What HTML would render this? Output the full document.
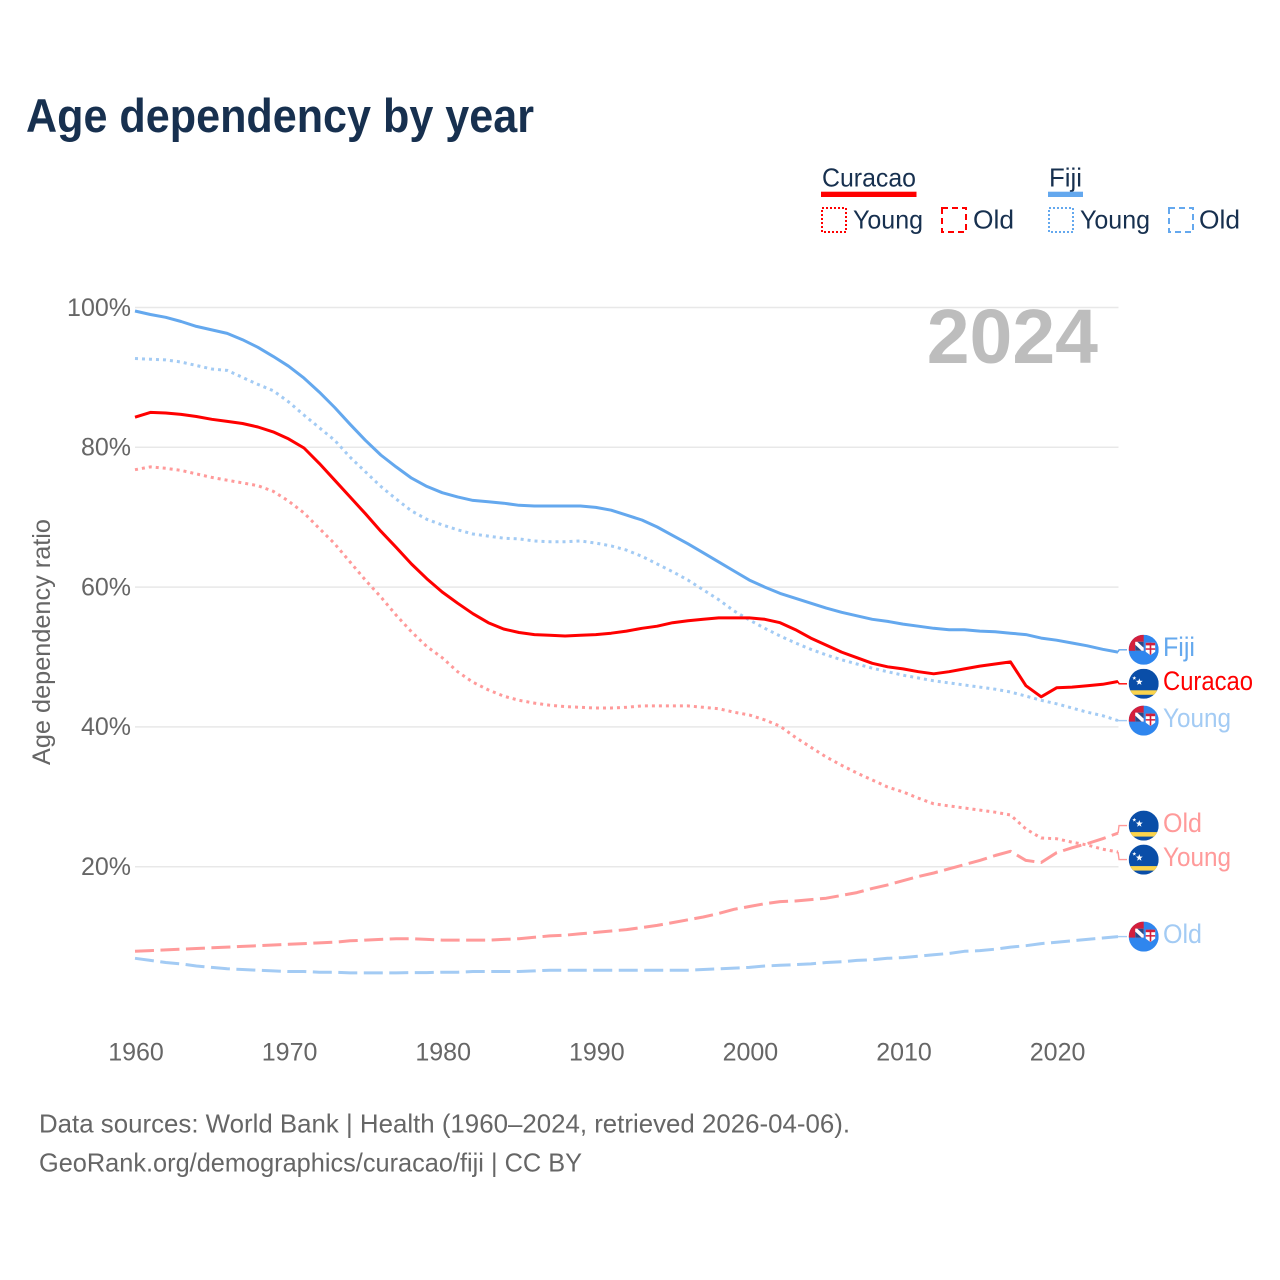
<!DOCTYPE html>
<html lang="en">
<head>
<meta charset="utf-8">
<title>Age dependency by year</title>
<style>
html,body{margin:0;padding:0;background:#fff;}
svg{display:block;font-family:"Liberation Sans",sans-serif;}
</style>
</head>
<body>
<svg id="chart" xmlns="http://www.w3.org/2000/svg" width="1280" height="1280" viewBox="0 0 1280 1280">
  <rect width="1280" height="1280" fill="#fff"/>
  <text x="26" y="132" font-size="47" font-weight="700" fill="#17304f" textLength="508" lengthAdjust="spacingAndGlyphs">Age dependency by year</text>

  <g font-size="26" fill="#17304f">
    <g>
      <text x="822" y="186.5" textLength="94" lengthAdjust="spacingAndGlyphs">Curacao</text>
      <rect x="821" y="191.7" width="95.5" height="5.3" fill="#ff0000"/>
    </g>
    <g>
      <rect x="822" y="208" width="24" height="24" fill="none" stroke="#ff0000" stroke-width="2" stroke-dasharray="2 2"/>
      <text x="853" y="228.5" textLength="70" lengthAdjust="spacingAndGlyphs">Young</text>
    </g>
    <g>
      <rect x="942" y="208" width="24" height="24" fill="none" stroke="#ff0000" stroke-width="2" stroke-dasharray="6 4"/>
      <text x="973" y="228.5" textLength="41" lengthAdjust="spacingAndGlyphs">Old</text>
    </g>
    <g>
      <text x="1049" y="186.5" textLength="33" lengthAdjust="spacingAndGlyphs">Fiji</text>
      <rect x="1048" y="191.7" width="35" height="5.3" fill="#64a8ee"/>
    </g>
    <g>
      <rect x="1049" y="208" width="24" height="24" fill="none" stroke="#64a8ee" stroke-width="2" stroke-dasharray="2 2"/>
      <text x="1080" y="228.5" textLength="70" lengthAdjust="spacingAndGlyphs">Young</text>
    </g>
    <g>
      <rect x="1169" y="208" width="24" height="24" fill="none" stroke="#64a8ee" stroke-width="2" stroke-dasharray="6 4"/>
      <text x="1199" y="228.5" textLength="41" lengthAdjust="spacingAndGlyphs">Old</text>
    </g>
  </g>

  <text transform="translate(50,765) rotate(-90)" font-size="25" fill="#666" textLength="246" lengthAdjust="spacingAndGlyphs">Age dependency ratio</text>

  <g id="grid"></g>
  <g id="yticks" font-size="25" fill="#666" text-anchor="end"></g>
  <g id="xticks" font-size="25" fill="#666" text-anchor="middle"></g>

  <text id="year" x="1098" y="363" text-anchor="end" font-size="77" font-weight="700" fill="#bdbdbd">2024</text>

  <g id="series"></g>
  <g id="endlabels" font-size="27"></g>

  <g font-size="26" fill="#666">
    <text x="39" y="1132.5" textLength="811" lengthAdjust="spacingAndGlyphs">Data sources: World Bank | Health (1960–2024, retrieved 2026-04-06).</text>
    <text x="39" y="1171.5" textLength="543" lengthAdjust="spacingAndGlyphs">GeoRank.org/demographics/curacao/fiji | CC BY</text>
  </g>
</svg>
<script>
const firstYear = 1960;
const xTickYears = [1960, 1970, 1980, 1990, 2000, 2010, 2020];
const yTickValues = [20, 40, 60, 80, 100];
const yTickLabels = ["20%", "40%", "60%", "80%", "100%"];

const fijiTotal = [99.5,99.0,98.6,98.0,97.3,96.8,96.3,95.4,94.3,93.0,91.6,89.9,87.9,85.7,83.3,81.0,78.9,77.2,75.6,74.4,73.5,72.9,72.4,72.2,72.0,71.7,71.6,71.6,71.6,71.6,71.4,71.0,70.3,69.6,68.6,67.4,66.2,64.9,63.6,62.3,61.0,60.0,59.1,58.4,57.7,57.0,56.4,55.9,55.4,55.1,54.7,54.4,54.1,53.9,53.9,53.7,53.6,53.4,53.2,52.7,52.4,52.0,51.6,51.1,50.7];
const fijiYoung = [92.7,92.6,92.5,92.2,91.7,91.2,91.0,90.0,89.0,88.1,86.5,84.6,82.8,81.0,78.6,76.5,74.4,72.6,70.9,69.7,68.9,68.2,67.6,67.3,67.0,66.9,66.6,66.5,66.5,66.6,66.3,65.9,65.3,64.4,63.3,62.2,61.0,59.6,58.2,56.6,55.3,54.1,53.0,52.0,51.1,50.3,49.6,49.0,48.4,47.9,47.4,47.0,46.6,46.3,46.0,45.7,45.4,45.0,44.4,43.8,43.3,42.7,42.1,41.6,40.9];
const fijiOld = [6.9,6.6,6.3,6.1,5.8,5.6,5.4,5.3,5.2,5.1,5.0,5.0,4.9,4.9,4.8,4.8,4.8,4.8,4.85,4.85,4.9,4.9,5.0,5.0,5.0,5.0,5.1,5.2,5.2,5.2,5.2,5.2,5.2,5.2,5.2,5.2,5.2,5.3,5.4,5.5,5.6,5.8,5.9,6.0,6.1,6.3,6.4,6.6,6.7,6.9,7.0,7.2,7.4,7.6,7.9,8.0,8.2,8.5,8.7,9.0,9.2,9.4,9.6,9.8,10.0];
const curacaoTotal = [84.3,85.0,84.9,84.7,84.4,84.0,83.7,83.4,82.9,82.2,81.2,79.9,77.7,75.3,72.9,70.5,68.0,65.7,63.3,61.2,59.3,57.7,56.2,54.9,54.0,53.5,53.2,53.1,53.0,53.1,53.2,53.4,53.7,54.1,54.4,54.9,55.2,55.4,55.6,55.6,55.6,55.4,54.9,53.9,52.7,51.7,50.7,49.9,49.1,48.6,48.3,47.9,47.6,47.9,48.3,48.7,49.0,49.3,45.9,44.3,45.6,45.7,45.9,46.1,46.5];
const curacaoYoung = [76.8,77.2,77.0,76.7,76.2,75.7,75.3,74.9,74.5,73.7,72.3,70.6,68.4,66.2,63.6,61.0,58.6,56.0,53.6,51.5,49.9,47.9,46.4,45.3,44.4,43.8,43.4,43.1,42.9,42.8,42.7,42.7,42.8,43.0,43.0,43.0,43.0,42.8,42.6,42.1,41.7,41.0,40.1,38.5,37.1,35.7,34.5,33.4,32.4,31.4,30.7,29.8,29.0,28.7,28.4,28.1,27.8,27.4,25.4,24.1,24.0,23.5,23.1,22.5,22.1];
const curacaoOld = [7.9,8.0,8.1,8.2,8.3,8.4,8.5,8.6,8.7,8.8,8.9,9.0,9.1,9.2,9.4,9.5,9.6,9.7,9.7,9.6,9.5,9.5,9.5,9.5,9.6,9.7,9.9,10.1,10.2,10.4,10.6,10.8,11.0,11.3,11.6,12.0,12.4,12.8,13.3,13.9,14.3,14.7,15.0,15.1,15.3,15.5,15.9,16.3,16.9,17.4,18.0,18.6,19.1,19.7,20.3,20.9,21.6,22.2,20.9,20.6,22.0,22.7,23.3,24.0,24.8];

const SVGNS = "http://www.w3.org/2000/svg";
const xAxis = year => 135 + (year - firstYear) * 15.36;
const yAxis = value => 1006.5 - value * 6.99;
const PLOT_RIGHT = 1118.5;

function make(tag, attrs, parent, text) {
  const el = document.createElementNS(SVGNS, tag);
  for (const k in attrs) el.setAttribute(k, attrs[k]);
  if (text !== undefined) el.textContent = text;
  parent.appendChild(el);
  return el;
}

const gridGroup = document.getElementById("grid");
const yTickGroup = document.getElementById("yticks");
const xTickGroup = document.getElementById("xticks");
const seriesGroup = document.getElementById("series");
const labelGroup = document.getElementById("endlabels");

yTickValues.forEach((v, i) => {
  const line = make("line", {x1: 135, x2: PLOT_RIGHT, y1: yAxis(v), y2: yAxis(v), stroke: "#e8e8e8", "stroke-width": 1.5}, gridGroup);
  
  
  const t = make("text", {x: 131, y: yAxis(v) + 8.3}, yTickGroup, yTickLabels[i]);
  
  
});

xTickYears.forEach(year => {
  const t = make("text", {x: xAxis(year) + 1, y: 1060.5}, xTickGroup, String(year));
  
  
});

const RED = "#ff0000", RED_LIGHT = "#ff9a9a", BLUE = "#64a8ee", BLUE_LIGHT = "#a3cbf4";
const DOT = "3 4", DASH = "19 6.5";

const seriesList = [
  {id: "fiji-old", values: fijiOld, color: BLUE_LIGHT, dash: DASH, label: "Old", flag: "fiji"},
  {id: "curacao-old", values: curacaoOld, color: RED_LIGHT, dash: DASH, label: "Old", flag: "curacao"},
  {id: "curacao-young", values: curacaoYoung, color: RED_LIGHT, dash: DOT, label: "Young", flag: "curacao"},
  {id: "fiji-young", values: fijiYoung, color: BLUE_LIGHT, dash: DOT, label: "Young", flag: "fiji"},
  {id: "fiji-total", values: fijiTotal, color: BLUE, dash: "", label: "Fiji", flag: "fiji"},
  {id: "curacao-total", values: curacaoTotal, color: RED, dash: "", label: "Curacao", flag: "curacao"}
];

seriesList.forEach(s => {
  const pts = s.values.map((v, i) => xAxis(firstYear + i).toFixed(1) + "," + yAxis(v).toFixed(1));
  const path = make("polyline", {points: pts.join(" "), fill: "none", stroke: s.color, "stroke-width": 3, "stroke-linejoin": "round"}, seriesGroup);
  if (s.dash) path.setAttribute("stroke-dasharray", s.dash);
  
  
});

/* label placement: relax end labels so they never overlap */
const MIN_GAP = 34;
const placed = seriesList.map(s => ({s: s, end: yAxis(s.values[s.values.length - 1])}));
placed.forEach(p => { p.y = p.end; });
placed.sort((a, b) => a.end - b.end);
for (let iter = 0; iter < 30; iter++) {
  for (let i = 0; i < placed.length - 1; i++) {
    const gap = placed[i + 1].y - placed[i].y;
    if (gap < MIN_GAP) {
      const push = (MIN_GAP - gap) / 2;
      placed[i].y -= push;
      placed[i + 1].y += push;
    }
  }
}

let clipCount = 0;
function drawFlag(kind, cx, cy, parent) {
  const g = make("g", {}, parent);
  
  
  const defs = make("defs", {}, g);
  const clipId = "flag-clip-" + (clipCount++);
  const clip = make("clipPath", {id: clipId}, defs);
  make("circle", {cx: cx, cy: cy, r: 15}, clip);
  const c = make("g", {"clip-path": "url(#" + clipId + ")"}, g);
  if (kind === "curacao") {
    make("rect", {x: cx - 15, y: cy - 15, width: 30, height: 30, fill: "#0a4ea8"}, c);
    make("rect", {x: cx - 15, y: cy + 6.5, width: 30, height: 4.5, fill: "#fbd44c"}, c);
    make("polygon", {points: star(cx - 4.4, cy - 1.8, 3.6), fill: "#fff"}, c);
    make("polygon", {points: star(cx - 9.4, cy - 5.7, 2.1), fill: "#fff"}, c);
  } else {
    make("rect", {x: cx - 15, y: cy - 15, width: 30, height: 30, fill: "#2f86ee"}, c);
    make("rect", {x: cx - 15, y: cy - 15, width: 15, height: 16, fill: "#d31f3c"}, c);
    make("rect", {x: cx - 8.5, y: cy - 8, width: 8.5, height: 9, fill: "#fff"}, c);
    make("polygon", {points: (cx - 6.5) + "," + (cy - 8) + " " + cx + "," + (cy - 8) + " " + cx + "," + (cy - 2), fill: "#2b4a8a"}, c);
    make("polygon", {points: (cx - 8.5) + "," + (cy - 5) + " " + (cx - 8.5) + "," + (cy + 1) + " " + (cx - 2) + "," + (cy + 1), fill: "#2b4a8a"}, c);
    make("polygon", {points: (cx + 2) + "," + (cy - 7) + " " + (cx + 11.5) + "," + (cy - 7) + " " + (cx + 11.5) + "," + (cy + 2) + " " + (cx + 6.75) + "," + (cy + 5.5) + " " + (cx + 2) + "," + (cy + 2), fill: "#fff"}, c);
    make("rect", {x: cx + 2, y: cy - 7, width: 9.5, height: 2.6, fill: "#d31f3c"}, c);
    make("rect", {x: cx + 6, y: cy - 7, width: 1.6, height: 12, fill: "#d31f3c"}, c);
    make("rect", {x: cx + 2, y: cy - 1.5, width: 9.5, height: 1.5, fill: "#d31f3c"}, c);
  }
}
function star(cx, cy, r) {
  const out = [];
  for (let i = 0; i < 10; i++) {
    const rad = i % 2 ? r * 0.42 : r;
    const a = -Math.PI / 2 + i * Math.PI / 5;
    out.push((cx + rad * Math.cos(a)).toFixed(2) + "," + (cy + rad * Math.sin(a)).toFixed(2));
  }
  return out.join(" ");
}

placed.forEach(p => {
  const s = p.s;
  const endX = xAxis(firstYear + s.values.length - 1);
  const conn = make("path", {d: "M" + endX + " " + p.end + "L" + (endX + 1) + " " + p.y + "L1127 " + p.y, fill: "none", stroke: s.color, "stroke-width": 1.4}, labelGroup);
  
  
  drawFlag(s.flag, 1143.7, p.y, labelGroup);
  const t = make("text", {x: 1163, y: p.y + 6.3, fill: s.color}, labelGroup, s.label);
  const targetWidth = {Fiji: 32, Curacao: 90, Young: 68, Old: 39}[s.label];
  t.setAttribute("textLength", targetWidth);
  t.setAttribute("lengthAdjust", "spacingAndGlyphs");
  
  
});
</script>
</body>
</html>
